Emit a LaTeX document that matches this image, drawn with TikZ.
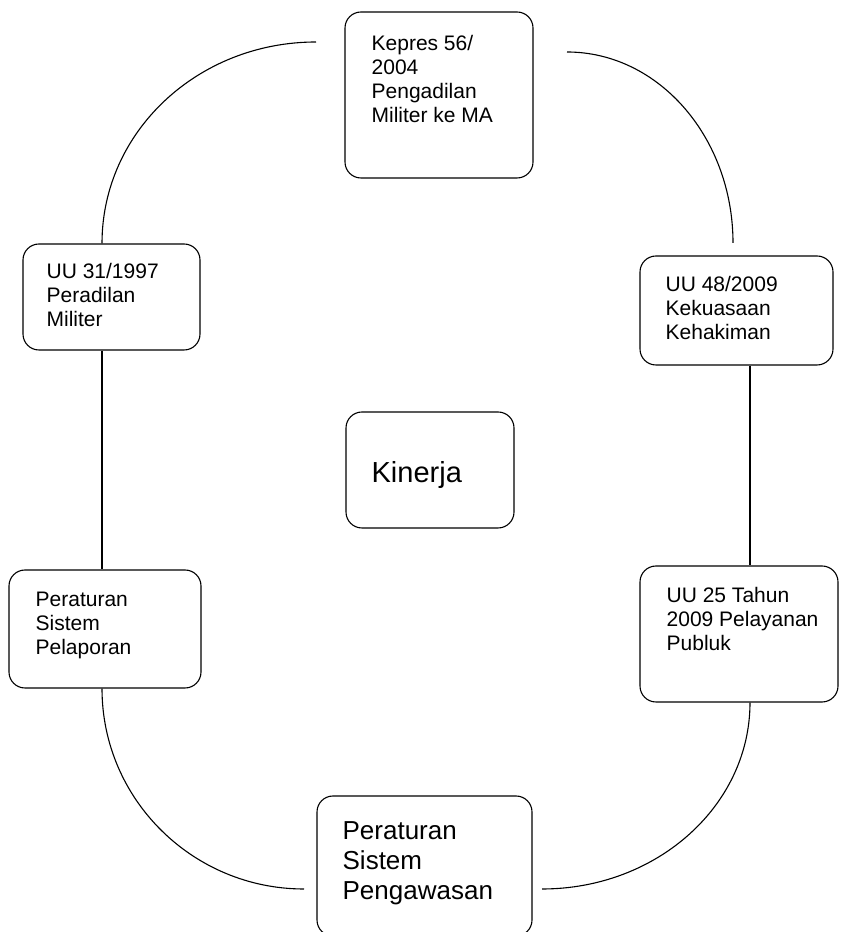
\documentclass[tikz,border=0pt]{standalone}
\usepackage{fontspec}
\setmainfont{Liberation Sans}
\usepackage{tikz}
\usetikzlibrary{calc}

\begin{document}
\begin{tikzpicture}[
    x=1pt, y=1pt,
    every node/.style={inner sep=0pt},
    lawbox/.style={draw=black, line width=1.1pt, rounded corners=16pt},
    boxtext/.style={anchor=north west, align=left,
                    font=\fontsize{21}{24}\selectfont},
    bigtext/.style={boxtext, font=\fontsize{26}{30}\selectfont},
    hugetext/.style={boxtext, font=\fontsize{29}{34}\selectfont},
    link/.style={draw=black, line width=1.1pt}
  ]
  \useasboundingbox (0,0) rectangle (842,932);

  % ===== TOP =====
  \node[lawbox, minimum width=188pt, minimum height=166pt] (kepres) at (439,837) {};
  \node[boxtext] (kepres-t) at ($(kepres.north west)+(27,-24)$)
    {Kepres 56/\\2004\\Pengadilan\\Militer ke MA};

  % ===== LEFT SIDE =====
  \node[lawbox, minimum width=177pt, minimum height=106pt] (militer) at (111.5,635) {};
  \node[boxtext] (militer-t) at ($(militer.north west)+(24,-20)$)
    {UU 31/1997\\Peradilan\\Militer};

  \node[lawbox, minimum width=192pt, minimum height=118pt] (pelaporan) at (105,303) {};
  \node[boxtext] (pelaporan-t) at ($(pelaporan.north west)+(27,-22)$)
    {Peraturan\\Sistem\\Pelaporan};

  % ===== RIGHT SIDE =====
  \node[lawbox, minimum width=193pt, minimum height=109pt] (kekuasaan) at (736.5,621.5) {};
  \node[boxtext] (kekuasaan-t) at ($(kekuasaan.north west)+(26,-21)$)
    {UU 48/2009\\Kekuasaan\\Kehakiman};

  \node[lawbox, minimum width=198pt, minimum height=136pt] (pelayanan) at (739,298) {};
  \node[boxtext] (pelayanan-t) at ($(pelayanan.north west)+(27,-22)$)
    {UU 25 Tahun\\2009 Pelayanan\\Publuk};

  % ===== CENTRE + BOTTOM =====
  \node[lawbox, minimum width=168pt, minimum height=116pt] (kinerja) at (430,462) {};
  \node[hugetext] (kinerja-t) at ($(kinerja.north west)+(26,-50)$) {Kinerja};

  \node[lawbox, minimum width=215pt, minimum height=140pt] (pengawasan) at (424.5,66) {};
  \node[bigtext] (pengawasan-t) at ($(pengawasan.north west)+(26,-26)$)
    {Peraturan\\Sistem\\Pengawasan};

  % ===== CONNECTORS =====
  \coordinate (leftrail)  at (102,0);
  \coordinate (rightrail) at (750,0);
  \coordinate (arcTL)   at (316,890);
  \coordinate (arcTR)   at (567,880);
  \coordinate (arcTRend) at (733,689);
  \coordinate (arcBL)   at (304,43);
  \coordinate (arcBR)   at (542,43);

  % upper ring
  \draw[link] (militer.north -| leftrail) .. controls +(0,112) and +(-118,0) .. (arcTL);
  \draw[link] (arcTR) .. controls +(92,0) and +(0,105) .. (arcTRend);

  % straight sides
  \draw[link] (militer.south -| leftrail) -- (pelaporan.north -| leftrail);
  \draw[link] (kekuasaan.south -| rightrail) -- (pelayanan.north -| rightrail);

  % lower ring
  \draw[link] (pelaporan.south -| leftrail) .. controls +(0,-111) and +(-111,0) .. (arcBL);
  \draw[link] (arcBR) .. controls +(115,0) and +(0,-103) .. (pelayanan.south -| rightrail);

\end{tikzpicture}
\end{document}
